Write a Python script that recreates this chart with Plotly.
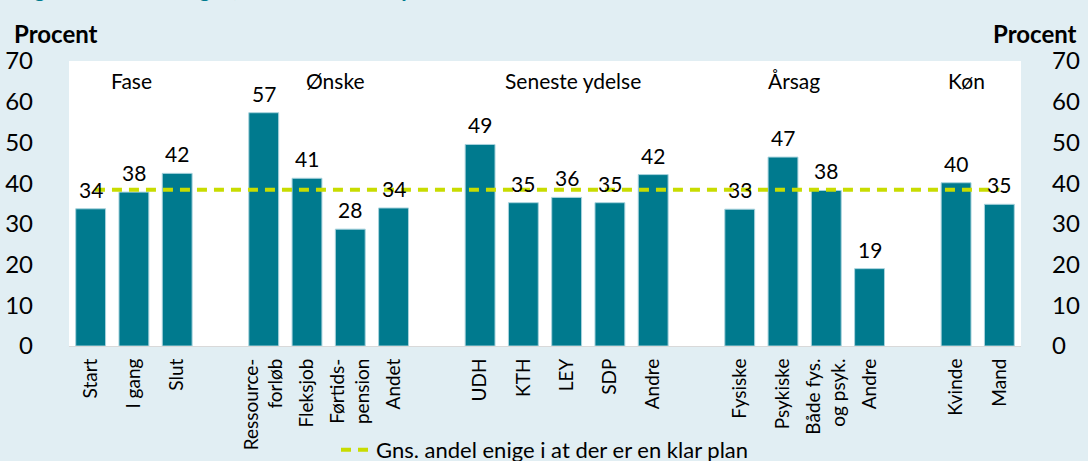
import plotly.graph_objects as go

# ---- data ----
groups = ["Fase", "Ønske", "Seneste ydelse", "Årsag", "Køn"]
group_cats = [
    ["Start", "I gang", "Slut"],
    ["Ressource-<br>forløb", "Fleksjob", "Førtids-<br>pension", "Andet"],
    ["UDH", "KTH", "LEY", "SDP", "Andre"],
    ["Fysiske", "Psykiske", "Både fys.<br>og psyk.", "Andre"],
    ["Kvinde", "Mand"],
]
group_values = [
    [33.7, 37.8, 42.4],
    [57.3, 41.2, 28.7, 33.9],
    [49.5, 35.2, 36.5, 35.2, 42.1],
    [33.6, 46.4, 38.2, 19.0],
    [40.1, 34.8],
]
group_labels = [
    ["34", "38", "42"],
    ["57", "41", "28", "34"],
    ["49", "35", "36", "35", "42"],
    ["33", "47", "38", "19"],
    ["40", "35"],
]
average = 38.4
avg_name = "Gns. andel enige i at der er en klar plan"
y_ticks = [0, 10, 20, 30, 40, 50, 60, 70]

# ---- layout helpers ----
FONT = "Lato"
BAR = "#007A8E"
BG = "#E1EEF3"
AVG = "#C8DC00"

xs, cats, vals, labs = [], [], [], []
group_centers = []
pos = 0
for cats_g, vals_g, labs_g in zip(group_cats, group_values, group_labels):
    start = pos
    for c, v, l in zip(cats_g, vals_g, labs_g):
        xs.append(pos); cats.append(c); vals.append(v); labs.append(l)
        pos += 1
    group_centers.append((start + pos - 1) / 2)
    pos += 1  # empty slot between groups

fig = go.Figure()
fig.add_trace(go.Bar(
    x=xs, y=vals, width=0.69, marker=dict(color=BAR, line=dict(color="#A9D3DD", width=1)),
    showlegend=False, hoverinfo="skip",
))
fig.add_trace(go.Scatter(
    x=[xs[0] + 0.1, xs[-1]], y=[average, average], mode="lines",
    line=dict(color=AVG, width=4, dash="10px,7px"), name=avg_name, showlegend=True,
))
# invisible trace on secondary y for right axis
fig.add_trace(go.Scatter(x=[xs[0]], y=[0], yaxis="y2", mode="markers",
                         marker=dict(opacity=0), showlegend=False, hoverinfo="skip"))

annotations = []
for x, v, l in zip(xs, vals, labs):
    annotations.append(dict(x=x, y=v, text=l, showarrow=False, yanchor="bottom", yshift=5,
                            font=dict(family=FONT, size=21, color="#000000")))
group_x_adj = [-0.05, 0.15, 0.15, -0.25, -0.25]
for g, cx, adj in zip(groups, group_centers, group_x_adj):
    annotations.append(dict(x=cx + adj, y=65.3, text=g, showarrow=False, yanchor="middle",
                            font=dict(family=FONT, size=21, color="#000000")))
annotations.append(dict(xref="paper", yref="paper", x=-0.0598, y=1.098, xanchor="left",
                        yanchor="middle", text="<b>Procent</b>", showarrow=False,
                        font=dict(family=FONT, size=24, color="#000000")))
annotations.append(dict(xref="paper", yref="paper", x=1.0609, y=1.098, xanchor="right",
                        yanchor="middle", text="<b>Procent</b>", showarrow=False,
                        font=dict(family=FONT, size=24, color="#000000")))
annotations.append(dict(xref="paper", yref="paper", x=-0.0598 + 0.002, y=1.199, xanchor="left",
                        yanchor="bottom", text="<b>Figur 3.2 Andel enige i, at der er en klar plan</b>",
                        showarrow=False, font=dict(family=FONT, size=22, color="#007A8E")))

fig.update_layout(
    width=1088, height=461,
    margin=dict(l=69, r=67, t=61, b=115, autoexpand=False),
    paper_bgcolor=BG, plot_bgcolor="#FFFFFF",
    font=dict(family=FONT, color="#000000"),
    bargap=0.3,
    xaxis=dict(range=[-0.5, xs[-1] + 0.5], tickmode="array", tickvals=xs, ticktext=cats,
               tickangle=-90, tickfont=dict(size=19), showgrid=False, zeroline=False,
               showline=True, linecolor="#D9D9D9", linewidth=1, ticks="", ticklabelstandoff=4,
               automargin=False, fixedrange=True),
    yaxis=dict(range=[0, 70], tickvals=y_ticks, tickfont=dict(size=24), showgrid=False,
               zeroline=False, showline=False, ticks="", ticklabelstandoff=35, automargin=False),
    yaxis2=dict(range=[0, 70], tickvals=y_ticks, tickfont=dict(size=24), showgrid=False,
                zeroline=False, showline=False, ticks="", overlaying="y", side="right",
                ticklabelstandoff=30, automargin=False),
    legend=dict(orientation="h", xanchor="center", x=0.5, yref="container", y=0.024,
                yanchor="middle", font=dict(size=22), bgcolor="rgba(0,0,0,0)"),
    annotations=annotations,
    showlegend=True,
)

fig.write_html("out.html", config={"displayModeBar": False},
               post_script="document.body.style.margin='0';")
